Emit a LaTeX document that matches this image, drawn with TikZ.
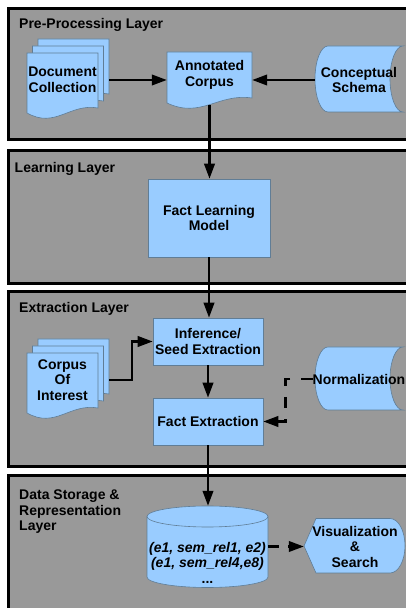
\documentclass[tikz,border=0pt]{standalone}
\usepackage{fontspec}
\setmainfont{Liberation Sans}
\usetikzlibrary{arrows.meta, calc}
\definecolor{layergray}{RGB}{153,153,153}
\definecolor{shapeblue}{RGB}{153,204,255}
\definecolor{shapeedge}{RGB}{96,125,150}

% page with a wavy lower edge: lower left x, y, width, height
\newcommand{\docpage}[4]{%
  \filldraw[fill=shapeblue, draw=shapeedge, line width=0.6pt]
    (#1,#2) -- (#1,{#2+#4}) -- ({#1+#3},{#2+#4}) -- ({#1+#3},{#2+5})
    .. controls ({#1+0.6*#3},{#2+10}) and ({#1+0.4*#3},{#2-16}) .. (#1,#2) -- cycle;}
% three pages, the front one at lower left x, y
\newcommand{\docstack}[2]{%
  \docpage{#1+11}{#2+14}{71}{60}
  \docpage{#1+5.5}{#2+7}{71}{60}
  \docpage{#1}{#2}{71}{60}}

\begin{document}
\begin{tikzpicture}[x=1pt, y=1pt,
  every node/.style={font=\fontsize{14}{15.5}\selectfont\bfseries, inner sep=0pt, align=center},
  layerbox/.style={fill=layergray, draw=black, line width=3pt},
  procbox/.style={fill=shapeblue, draw=shapeedge, line width=0.6pt},
  flowline/.style={line width=2.3pt, -{Triangle[length=15pt, width=10.5pt]}},
  dashflow/.style={flowline, dash pattern=on 11.5pt off 11pt}]
\useasboundingbox (0,0) rectangle (406,608);

% layers
\draw[layerbox] (8.3,468.5) rectangle (430,599.5);
\draw[layerbox] (8.3,324.7) rectangle (430,457);
\draw[layerbox] (8.3,141.3) rectangle (430,316.3);
\draw[layerbox] (8.3,-20) rectangle (430,132);
\node[anchor=west] (prelabel) at (19,583) {Pre-Processing Layer};
\node[anchor=west] (learnlabel) at (14.5,439.2) {Learning Layer};
\node[anchor=west] (extrlabel) at (19,299.2) {Extraction Layer};
\node[anchor=north west, align=left] (storelabel) at (19,118) {Data Storage \&\\Representation\\Layer};

% pre-processing
\docstack{27}{495}
\docpage{167}{505}{85}{51}
\filldraw[procbox] (328,496) arc[start angle=270, end angle=90, x radius=13pt, y radius=33pt]
  -- (403,562) arc[start angle=90, end angle=270, x radius=13pt, y radius=33pt] -- cycle;
\node[minimum width=71pt] (doccoll) at (62.5,528) {Document\\Collection};
\node[minimum width=85pt, minimum height=60pt] (anncorpus) at (209.5,533) {Annotated\\Corpus};
\node[minimum width=88pt] (schema) at (359,528) {Conceptual\\Schema};

% learning
\node[procbox, minimum width=122pt, minimum height=78pt] (factlearn) at (209,390) {Fact Learning\\Model};

% extraction
\docstack{27}{195}
\filldraw[procbox] (328,198) arc[start angle=270, end angle=90, x radius=13pt, y radius=31.5pt]
  -- (403,261) arc[start angle=90, end angle=270, x radius=13pt, y radius=31.5pt] -- cycle;
\node[minimum width=71pt] (coi) at (62.5,228) {Corpus\\Of\\Interest};
\node[procbox, minimum width=110pt, minimum height=47pt] (inference) at (208,266.5) {Inference/\\Seed Extraction};
\node[procbox, minimum width=110pt, minimum height=47pt] (factext) at (208,186.5) {Fact Extraction};
\node[minimum width=88pt] (normal) at (359,229) {Normalization};

% storage and output
\filldraw[procbox] (147,91.5) -- (147,31) arc[start angle=180, end angle=360, x radius=60.5pt, y radius=10.5pt]
  -- (268,91.5) arc[start angle=0, end angle=180, x radius=60.5pt, y radius=10.5pt] -- cycle;
\draw[procbox, fill=none] (147,91.5) arc[start angle=180, end angle=360, x radius=60.5pt, y radius=10.5pt];
\filldraw[procbox] (304,62) -- (316,89.5) -- (390,89.5)
  arc[start angle=90, end angle=-90, x radius=15pt, y radius=27.25pt] -- (316,35) -- cycle;
\node[minimum width=121pt, minimum height=113pt] (db) at (207.5,45.5)
  {\itshape (e1, sem\_rel1, e2)\\\itshape (e1, sem\_rel4,e8)\\...};
\node[minimum width=102pt] (vis) at (355,61.5) {Visualization\\\&\\Search};

% connectors
\draw[flowline] ([xshift=11pt]doccoll.east) -- (doccoll.east -| anncorpus.west);
\draw[flowline] (schema.west) -- (schema.west -| anncorpus.east);
\draw[flowline] (anncorpus.south) -- (anncorpus.south |- factlearn.north);
\draw[flowline] (factlearn.south) -- (factlearn.south |- inference.north);
\draw[flowline] ([xshift=11pt]coi.east) -- ++(23,0) |- (inference.west);
\draw[flowline] (inference) -- (factext);
\draw[dashflow] (normal.west) -- ++(-27,0) |- (factext.east);
\draw[flowline] (factext.south) -- (factext.south |- db.north);
\draw[flowline, dash pattern=on 11pt off 9pt] (db.east |- vis.west) -- (vis.west);
\end{tikzpicture}
\end{document}
